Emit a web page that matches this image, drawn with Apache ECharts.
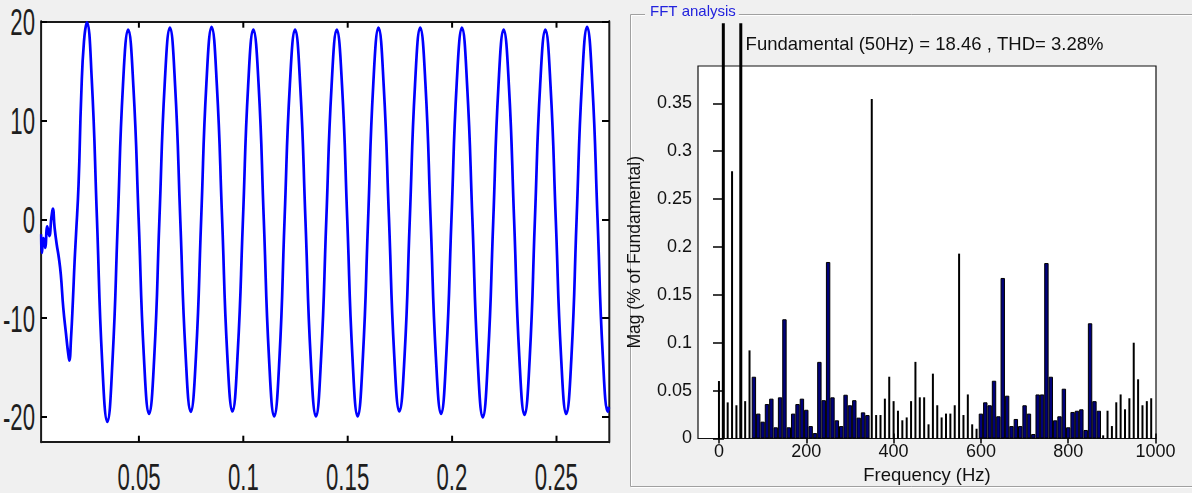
<!DOCTYPE html>
<html><head><meta charset="utf-8">
<script src="https://cdn.jsdelivr.net/npm/echarts@6/dist/echarts.min.js"></script>
<style>
html,body{margin:0;padding:0;background:#f0f0f0;overflow:hidden;}
#stage{position:relative;width:1192px;height:493px;}
#wave{position:absolute;left:0;top:0;width:1033.333px;height:493px;transform:scaleX(0.6);transform-origin:0 0;}
#fft{position:absolute;left:0;top:0;width:1192px;height:493px;}
</style>
</head><body><div id="stage"><div id="wave"></div><div id="fft"></div></div>
<script>
// ---------------- data ----------------
const waveTime = [
  0.0030, 0.0034, 0.0042, 0.0050, 0.0060, 0.0070, 0.0080, 0.0087, 0.0095, 0.0105,
  0.0115, 0.0125, 0.0137, 0.0150, 0.0160, 0.0166, 0.0174, 0.0183, 0.0191, 0.0198,
  0.0210, 0.0223, 0.0236, 0.0250, 0.0273, 0.0298, 0.0323, 0.0348, 0.0373, 0.0398,
  0.0423, 0.0448, 0.0473, 0.0498, 0.0523, 0.0548, 0.0573, 0.0598,
  0.0623, 0.0648, 0.0673, 0.0698, 0.0723, 0.0748, 0.0773, 0.0798,
  0.0823, 0.0848, 0.0873, 0.0898, 0.0923, 0.0948, 0.0973, 0.0998,
  0.1023, 0.1048, 0.1073, 0.1098, 0.1123, 0.1148, 0.1173, 0.1198,
  0.1223, 0.1248, 0.1273, 0.1298, 0.1323, 0.1348, 0.1373, 0.1398,
  0.1423, 0.1448, 0.1473, 0.1498, 0.1523, 0.1548, 0.1573, 0.1598,
  0.1623, 0.1648, 0.1673, 0.1698, 0.1723, 0.1748, 0.1773, 0.1798,
  0.1823, 0.1848, 0.1873, 0.1898, 0.1923, 0.1948, 0.1973, 0.1998,
  0.2023, 0.2048, 0.2073, 0.2098, 0.2123, 0.2148, 0.2173, 0.2198,
  0.2223, 0.2248, 0.2273, 0.2298, 0.2323, 0.2348, 0.2373, 0.2398,
  0.2423, 0.2448, 0.2473, 0.2498, 0.2523, 0.2548, 0.2573, 0.2598,
  0.2623, 0.2648, 0.2673, 0.2698, 0.2723, 0.2748, 0.2753
];
const waveValue = [
  -1.5, -3.3, -2.0, -2.8, -0.8, -1.6, 0.2, 1.0, -0.8, -2.5,
  -3.8, -5.6, -9.0, -11.6, -13.5, -14.2, -12.0, -8.2, -4.3, -1.5,
  3.5, 12.6, 18.0, 19.85, 14.3, 0.2, -14.3, -20.4, -14.2, -0.3,
  13.6, 19.1, 13.4, 0.1, -13.8, -19.6, -13.9, 0.2,
  13.7, 19.3, 13.5, -0.2, -13.6, -19.4, -13.8, 0.1,
  13.8, 19.4, 13.6, 0.2, -13.7, -19.35, -13.5, -0.1,
  13.5, 19.1, 13.7, 0.0, -14.0, -19.85, -14.1, 0.2,
  13.6, 19.1, 13.4, -0.2, -14.1, -19.85, -13.9, 0.1,
  13.5, 19.1, 13.6, 0.1, -13.9, -19.85, -14.0, -0.1,
  13.7, 19.3, 13.5, 0.2, -13.6, -19.35, -13.8, 0.0,
  13.6, 19.3, 13.7, -0.1, -13.9, -19.6, -13.7, 0.2,
  13.8, 19.3, 13.5, 0.1, -14.1, -19.95, -14.0, -0.2,
  13.5, 19.1, 13.6, 0.0, -13.9, -19.7, -14.0, 0.1,
  13.6, 19.1, 13.4, -0.1, -13.8, -19.6, -13.9, 0.2,
  13.7, 19.4, 13.7, 0.1, -13.7, -19.4, -19.0
];
const waveXTicks = [0.05, 0.1, 0.15, 0.2, 0.25];
const waveYTicks = [-20, -10, 0, 10, 20];

const fftFreq = [
  0, 10, 20, 30, 40, 50, 60, 70, 80, 90,
  100, 110, 120, 130, 140, 150, 160, 170, 180, 190,
  200, 210, 220, 230, 240, 250, 260, 270, 280, 290,
  300, 310, 320, 330, 340, 350, 360, 370, 380, 390,
  400, 410, 420, 430, 440, 450, 460, 470, 480, 490,
  500, 510, 520, 530, 540, 550, 560, 570, 580, 590,
  600, 610, 620, 630, 640, 650, 660, 670, 680, 690,
  700, 710, 720, 730, 740, 750, 760, 770, 780, 790,
  800, 810, 820, 830, 840, 850, 860, 870, 880, 890,
  900, 910, 920, 930, 940, 950, 960, 970, 980, 990
];
const fftMag = [
  0.060, 1.5, 0.0377, 0.279, 0.0347, 100, 0.039, 0.092, 0.0645, 0.026,
  0.0176, 0.036, 0.0416, 0.0117, 0.043, 0.1245, 0.0117, 0.026, 0.036, 0.0416,
  0.030, 0.013, 0.0057, 0.080, 0.040, 0.1843, 0.043, 0.019, 0.013, 0.0457,
  0.0347, 0.040, 0.0218, 0.0273, 0.0245, 0.3545, 0.0245, 0.0245, 0.0416, 0.0645,
  0.039, 0.029, 0.019, 0.022, 0.039, 0.080, 0.043, 0.043, 0.0148, 0.0677,
  0.0347, 0.022, 0.026, 0.026, 0.0347, 0.193, 0.0245, 0.046, 0.0148, 0.0102,
  0.026, 0.0378, 0.0347, 0.0603, 0.0232, 0.1676, 0.0447, 0.013, 0.0204, 0.013,
  0.0347, 0.026, 0.0047, 0.046, 0.046, 0.1832, 0.0645, 0.019, 0.0232, 0.052,
  0.0117, 0.0277, 0.029, 0.0305, 0.0089, 0.1203, 0.039, 0.029, 0.0033, 0.029,
  0.013, 0.0378, 0.046, 0.0305, 0.042, 0.100, 0.0618, 0.0347, 0.039, 0.042
];
const fftXTicks = [0, 200, 400, 600, 800, 1000];
const fftYTicks = [0, 0.05, 0.1, 0.15, 0.2, 0.25, 0.3, 0.35];
const panelTitle = 'FFT analysis';
const fftTitle = 'Fundamental (50Hz) = 18.46 , THD= 3.28%';
const fftXName = 'Frequency (Hz)';
const fftYName = 'Mag (% of Fundamental)';

// ---------------- layout / style ----------------
const SX = 0.6;                       // horizontal squeeze of the waveform panel (condensed look)
const px = v => v / SX;               // on-screen px -> pre-scale px
const WAVE_X = [0.003, 0.2753], WAVE_Y = [-22.5, 20];
const FFT_X = [-48, 1001], FFT_Y_MAX = 0.3889, FFT_Y_TALL = 0.4335;
const sans = '"Liberation Sans", Arial, sans-serif';
const inDark = f => (f >= 80 && f <= 340) || (f >= 600 && f <= 870);
const fmt = v => String(v);

// ---------- waveform panel ----------
const wavePts = waveTime.map((t, i) => [t, waveValue[i]]);
const waveLabel = { fontFamily: sans, fontSize: 37, color: '#1e1e1e' };
const wave = echarts.init(document.getElementById('wave'), null, { renderer: 'svg' });
wave.setOption({
  animation: false,
  backgroundColor: 'transparent',
  grid: { left: px(41), top: 21.7, width: px(568), height: 420, outerBoundsMode: 'none', containLabel: false,
          show: true, backgroundColor: '#ffffff', borderWidth: 0 },
  xAxis: [
    { type: 'value', position: 'bottom', min: WAVE_X[0], max: WAVE_X[1], splitLine: { show: false },
      axisLine: { show: true, onZero: false, lineStyle: { color: '#1a1a1a', width: 2 } },
      axisTick: { inside: true, length: 6, customValues: waveXTicks, lineStyle: { color: '#000', width: px(2) } },
      axisLabel: Object.assign({ customValues: waveXTicks, formatter: fmt, margin: 16 }, waveLabel) },
    { type: 'value', position: 'top', min: WAVE_X[0], max: WAVE_X[1], splitLine: { show: false },
      axisLine: { show: true, onZero: false, lineStyle: { color: '#1a1a1a', width: 2 } }, axisLabel: { show: false },
      axisTick: { inside: true, length: 6, customValues: waveXTicks, lineStyle: { color: '#000', width: px(2) } } }
  ],
  yAxis: [
    { type: 'value', position: 'left', min: WAVE_Y[0], max: WAVE_Y[1], splitLine: { show: false },
      axisLine: { show: true, onZero: false, lineStyle: { color: '#1a1a1a', width: px(2) } },
      axisTick: { inside: true, length: px(6), customValues: waveYTicks, lineStyle: { color: '#000', width: 2 } },
      axisLabel: Object.assign({ customValues: waveYTicks, formatter: fmt, margin: px(6) }, waveLabel) },
    { type: 'value', position: 'right', min: WAVE_Y[0], max: WAVE_Y[1], splitLine: { show: false },
      axisLine: { show: true, onZero: false, lineStyle: { color: '#1a1a1a', width: px(2) } }, axisLabel: { show: false },
      axisTick: { inside: true, length: px(7), customValues: waveYTicks, lineStyle: { color: '#000', width: 2 } } }
  ],
  series: [
    { type: 'line', data: wavePts, smooth: 0.5, showSymbol: false, clip: true,
      lineStyle: { color: '#0000ff', width: 4.5 } }
  ]
});

// ---------- FFT panel ----------
const lightBars = [], darkBars = [], tallBars = [];
fftFreq.forEach((f, i) => {
  const v = fftMag[i];
  if (v > FFT_Y_MAX) tallBars.push([f, v]);
  else if (inDark(f)) darkBars.push([f, v]);
  else lightBars.push([f, v]);
});
const mirrorTick = (vals, len) => ({ inside: true, length: len, customValues: vals, lineStyle: { color: '#000', width: 1.5 } });

const fft = echarts.init(document.getElementById('fft'), null, { renderer: 'canvas' });
fft.setOption({
  animation: false,
  backgroundColor: 'transparent',
  title: [
    { text: panelTitle, left: 645, top: 4, padding: [0, 3, 0, 5], backgroundColor: '#f0f0f0',
      textStyle: { fontFamily: sans, fontSize: 15, fontWeight: 'normal', color: '#2222dd' } },
    { text: fftTitle, left: 924.5, top: 35, textAlign: 'center', padding: 0,
      textStyle: { fontFamily: sans, fontSize: 18.5, fontWeight: 'normal', color: '#111' } }
  ],
  graphic: [
    { type: 'rect', z: 0, shape: { x: 631.5, y: 15.5, width: 600, height: 472 }, style: { fill: null, stroke: '#ffffff', lineWidth: 1 } },
    { type: 'rect', z: 0, shape: { x: 630.5, y: 14.5, width: 600, height: 472 }, style: { fill: null, stroke: '#a0a0a0', lineWidth: 1 } }
  ],
  grid: [
    { left: 698, top: 66, width: 458, height: 372.5, outerBoundsMode: 'none', containLabel: false,
      show: true, backgroundColor: '#ffffff', borderColor: '#111', borderWidth: 1.2 },
    { left: 698, top: 23.3, width: 458, height: 415.2, outerBoundsMode: 'none', containLabel: false, show: false }
  ],
  xAxis: [
    { gridIndex: 0, type: 'value', position: 'bottom', min: FFT_X[0], max: FFT_X[1],
      axisLine: { show: false }, splitLine: { show: false },
      axisTick: mirrorTick(fftXTicks, 5),
      axisLabel: { customValues: fftXTicks, formatter: fmt, margin: 5, fontFamily: sans, fontSize: 18, color: '#111' },
      name: fftXName, nameLocation: 'middle', nameGap: 28,
      nameTextStyle: { fontFamily: sans, fontSize: 18.5, color: '#111' } },
    { gridIndex: 0, type: 'value', position: 'top', min: FFT_X[0], max: FFT_X[1],
      axisLine: { show: false }, splitLine: { show: false }, axisLabel: { show: false },
      axisTick: mirrorTick(fftXTicks, 5) },
    { gridIndex: 0, type: 'value', show: false, min: FFT_X[0], max: FFT_X[1] },
    { gridIndex: 1, type: 'value', show: false, min: FFT_X[0], max: FFT_X[1] }
  ],
  yAxis: [
    { gridIndex: 0, type: 'value', position: 'left', min: 0, max: FFT_Y_MAX,
      axisLine: { show: false }, splitLine: { show: false },
      axisTick: mirrorTick(fftYTicks, 5),
      axisLabel: { customValues: fftYTicks, formatter: fmt, margin: 6, fontFamily: sans, fontSize: 18, color: '#111' },
      name: fftYName, nameLocation: 'middle', nameGap: 54, nameRotate: 90,
      nameTextStyle: { fontFamily: sans, fontSize: 17.5, color: '#111' } },
    { gridIndex: 0, type: 'value', position: 'right', min: 0, max: FFT_Y_MAX,
      axisLine: { show: false }, splitLine: { show: false }, axisLabel: { show: false },
      axisTick: mirrorTick(fftYTicks, 6) },
    { gridIndex: 1, type: 'value', show: false, min: 0, max: FFT_Y_TALL }
  ],
  series: [
    { type: 'bar', xAxisIndex: 0, yAxisIndex: 0, data: lightBars, barWidth: 2,
      itemStyle: { color: '#000' } },
    { type: 'bar', xAxisIndex: 2, yAxisIndex: 0, data: darkBars, barWidth: 4.4,
      itemStyle: { color: '#00007a', borderColor: '#000', borderWidth: 1 } },
    { type: 'bar', xAxisIndex: 3, yAxisIndex: 2, data: tallBars, barWidth: 3, clip: true,
      itemStyle: { color: '#000' } }
  ]
});
</script></body></html>
